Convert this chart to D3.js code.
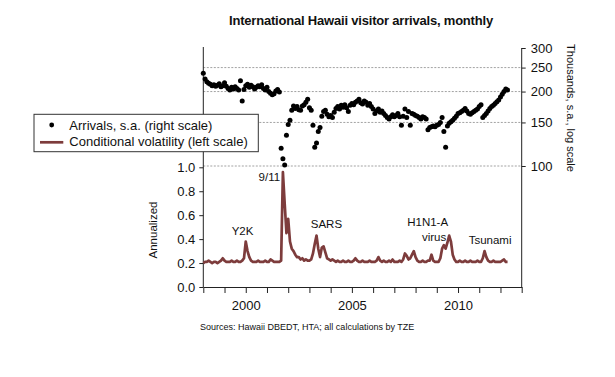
<!DOCTYPE html>
<html>
<head>
<meta charset="utf-8">
<script src="https://cdn.jsdelivr.net/npm/d3@7"></script>
<style>
  body { margin: 0; background: #fff; }
  svg { display: block; font-family: "Liberation Sans", Arial, sans-serif; }
  .grid line { stroke: #8a8a8a; stroke-width: 0.8; stroke-dasharray: 2,1.5; }
  .axis path, .axis line { stroke: #222; stroke-width: 1; }
  .axis text { font-size: 13px; fill: #111; }
  .note { font-size: 11.5px; fill: #111; text-anchor: middle; }
</style>
</head>
<body>
<svg id="chart" width="615" height="377"></svg>
<script>
// monthly, starting January 1998
const startYear = 1998;

// arrivals, thousands, seasonally adjusted (right scale, log)
const arrivals = [
  237, 225, 219, 216, 214, 211, 213, 210, 212, 215, 209, 211,
  217, 210, 206, 203, 208, 205, 209, 206, 203, 221, 183, 204,
  211, 214, 208, 212, 209, 205, 208, 211, 209, 213, 206, 203,
  208, 200, 197, 194, 196, 201, 204, 199, 118, 107, 101, 133,
  147, 153, 168, 175, 171, 174, 169, 168, 175, 177, 181, 186,
  172, 168, 146, 119, 124, 138, 143, 159, 166, 168, 162, 158,
  160, 157, 165, 171, 174, 170, 176, 173, 177, 172, 166, 176,
  179, 177, 181, 183, 186, 180, 178, 183, 181, 176, 179, 174,
  170, 163, 167, 170, 165, 167, 163, 160, 157, 155, 158, 161,
  158, 160, 163, 158, 146, 159, 170, 157, 166, 146, 163, 162,
  160, 159, 157, 155, 158, 157, 155, 140, 143, 144, 145, 144,
  146, 147, 150, 157, 138, 119, 145, 149, 151, 153, 156, 159,
  163, 164, 166, 168, 171, 167, 163, 162, 164, 166, 168, 170,
  174, 177, 157, 160, 163, 167, 171, 174, 176, 179, 182, 185,
  190, 195, 200, 205, 203
];

// conditional volatility, annualized (left scale)
const volatility = [
  0.20, 0.21, 0.21, 0.22, 0.21, 0.20, 0.21, 0.21, 0.20, 0.21, 0.22, 0.24,
  0.22, 0.21, 0.21, 0.21, 0.22, 0.21, 0.21, 0.22, 0.21, 0.21, 0.22, 0.24,
  0.38, 0.30, 0.25, 0.22, 0.21, 0.21, 0.21, 0.22, 0.21, 0.21, 0.21, 0.22,
  0.21, 0.21, 0.23, 0.22, 0.21, 0.21, 0.21, 0.21, 0.22, 0.96, 0.70, 0.45,
  0.57, 0.38, 0.32, 0.30, 0.27, 0.25, 0.25, 0.23, 0.24, 0.22, 0.23, 0.22,
  0.22, 0.23, 0.28, 0.36, 0.43, 0.32, 0.25, 0.33, 0.34, 0.29, 0.24, 0.23,
  0.22, 0.23, 0.22, 0.21, 0.22, 0.21, 0.21, 0.22, 0.21, 0.21, 0.22, 0.21,
  0.21, 0.22, 0.24, 0.22, 0.21, 0.21, 0.22, 0.21, 0.21, 0.21, 0.22, 0.21,
  0.21, 0.21, 0.22, 0.25, 0.22, 0.21, 0.22, 0.21, 0.21, 0.22, 0.21, 0.23,
  0.21, 0.21, 0.21, 0.22, 0.21, 0.23, 0.28, 0.26, 0.23, 0.24, 0.27, 0.30,
  0.25, 0.22, 0.21, 0.21, 0.22, 0.21, 0.21, 0.22, 0.22, 0.27, 0.22, 0.21,
  0.21, 0.21, 0.24, 0.32, 0.35, 0.32, 0.37, 0.43, 0.38, 0.27, 0.23, 0.21,
  0.21, 0.22, 0.21, 0.21, 0.22, 0.21, 0.21, 0.22, 0.21, 0.21, 0.21, 0.22,
  0.21, 0.21, 0.24, 0.30, 0.25, 0.22, 0.21, 0.21, 0.22, 0.21, 0.21, 0.21,
  0.21, 0.22, 0.23, 0.21, 0.21
];

const leftTicks = [0, 0.2, 0.4, 0.6, 0.8, 1.0];
const rightTicks = [100, 150, 200, 250, 300];
const gridValues = [100, 150, 200, 250];
const yearTicks = d3.range(1998, 2014);
const yearLabels = [2000, 2005, 2010];

// event labels: [text, year, volatility level of baseline]
const events = [
  ["Y2K", 1999.85, 0.434],
  ["9/11", 2001.11, 0.886],
  ["SARS", 2003.80, 0.493],
  ["H1N1-A", 2008.57, 0.51],
  ["virus", 2008.87, 0.384],
  ["Tsunami", 2011.51, 0.359]
];

const titleText = "International Hawaii visitor arrivals, monthly";
const sourceText = "Sources:  Hawaii DBEDT, HTA; all calculations by TZE";
const legendItems = ["Arrivals, s.a. (right scale)", "Conditional volatility (left scale)"];

const lineColor = "#7d3c3c";

const svg = d3.select("#chart");

const x = d3.scaleLinear().domain([1998, 2013]).range([203.3, 521.7]);
const yLeft = d3.scaleLinear().domain([0, 1]).range([287, 167.3]);
const yRight = d3.scaleLog().domain([100, 300]).range([166, 48]);

const monthYear = (i) => startYear + i / 12;

// gridlines (right scale)
svg.append("g")
  .attr("class", "grid")
  .selectAll("line")
  .data(gridValues)
  .join("line")
  .attr("x1", x(1998))
  .attr("x2", x(2013))
  .attr("y1", (d) => yRight(d))
  .attr("y2", (d) => yRight(d));

// axes
const leftAxis = svg.append("g")
  .attr("class", "axis")
  .attr("transform", `translate(${x(1998)},0)`)
  .call(d3.axisLeft(yLeft).tickValues(leftTicks).tickFormat(d3.format(".1f")).tickSize(4).tickSizeOuter(0));
leftAxis.select(".domain").remove();
leftAxis.selectAll("text").attr("dx", "-1");
svg.append("line")
  .attr("x1", x(1998)).attr("x2", x(1998))
  .attr("y1", 47).attr("y2", yLeft(0))
  .attr("stroke", "#222");

const rightAxis = svg.append("g")
  .attr("class", "axis")
  .attr("transform", `translate(${x(2013)},0)`)
  .call(d3.axisRight(yRight).tickValues(rightTicks).tickFormat(d3.format("d")).tickSize(4).tickSizeOuter(0));
rightAxis.select(".domain").remove();
rightAxis.selectAll("text").attr("x", 9);
svg.append("line")
  .attr("x1", x(2013)).attr("x2", x(2013))
  .attr("y1", yRight(300)).attr("y2", yLeft(0))
  .attr("stroke", "#222");

const bottomAxis = svg.append("g")
  .attr("class", "axis")
  .attr("transform", `translate(0,${yLeft(0)})`)
  .call(d3.axisBottom(x).tickValues(yearTicks).tickSize(6).tickSizeOuter(0)
    .tickFormat((d) => (yearLabels.includes(d) ? String(d) : "")));
bottomAxis.selectAll("text").attr("dy", "1.05em");

// axis titles
svg.append("text")
  .attr("transform", "translate(157,230) rotate(-90)")
  .attr("text-anchor", "middle")
  .attr("font-size", 11.5)
  .attr("fill", "#111")
  .text("Annualized");

svg.append("text")
  .attr("transform", "translate(567,108) rotate(90)")
  .attr("text-anchor", "middle")
  .attr("font-size", 11)
  .attr("fill", "#111")
  .text("Thousands, s.a., log scale");

// volatility line
const volLine = d3.line()
  .x((d, i) => x(monthYear(i)))
  .y((d) => yLeft(d));

svg.append("path")
  .datum(volatility)
  .attr("fill", "none")
  .attr("stroke", lineColor)
  .attr("stroke-width", 2.7)
  .attr("stroke-linejoin", "round")
  .attr("d", volLine);

// arrivals dots
svg.append("g")
  .selectAll("circle")
  .data(arrivals)
  .join("circle")
  .attr("cx", (d, i) => x(monthYear(i)))
  .attr("cy", (d) => yRight(d))
  .attr("r", 2.5)
  .attr("fill", "#000");

// event notes
svg.append("g")
  .selectAll("text")
  .data(events)
  .join("text")
  .attr("class", "note")
  .attr("x", (d) => x(d[1]))
  .attr("y", (d) => yLeft(d[2]))
  .text((d) => d[0]);

// title and source
svg.append("text")
  .attr("x", 361)
  .attr("y", 25)
  .attr("text-anchor", "middle")
  .attr("font-size", 13)
  .attr("font-weight", "bold")
  .attr("letter-spacing", -0.2)
  .attr("fill", "#111")
  .text(titleText);

svg.append("text")
  .attr("x", 200)
  .attr("y", 330)
  .attr("font-size", 9)
  .attr("fill", "#111")
  .text(sourceText);

// legend
const legend = svg.append("g").attr("transform", "translate(34,114.3)");
legend.append("rect")
  .attr("width", 224.3)
  .attr("height", 37.4)
  .attr("fill", "#fff")
  .attr("stroke", "#333")
  .attr("stroke-width", 1);
legend.append("circle")
  .attr("cx", 17.7).attr("cy", 10.7).attr("r", 2.4).attr("fill", "#000");
legend.append("line")
  .attr("x1", 6).attr("x2", 29.3).attr("y1", 28).attr("y2", 28)
  .attr("stroke", lineColor).attr("stroke-width", 2.7);
legend.selectAll("text.item")
  .data(legendItems)
  .join("text")
  .attr("class", "item")
  .attr("x", 35.3)
  .attr("y", (d, i) => 15.5 + i * 16.5)
  .attr("font-size", 13)
  .attr("fill", "#111")
  .text((d) => d);
</script>
</body>
</html>
